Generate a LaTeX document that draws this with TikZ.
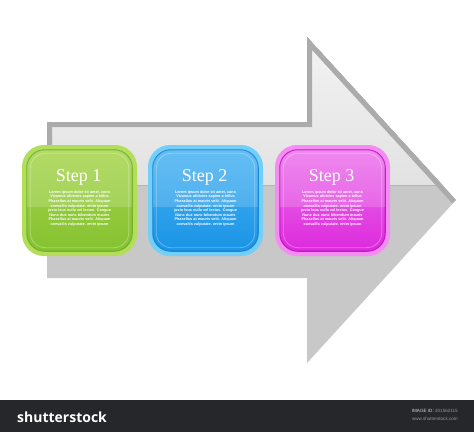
\documentclass[tikz,border=0pt]{standalone}
\usepackage{fontspec}
\setmainfont{Liberation Serif}
\newfontfamily\smallsans{Liberation Sans}
\newfontfamily\logofont{Open Sans}
\usetikzlibrary{calc}
\definecolor{arrowlow}{HTML}{C8C8C8}
\definecolor{arrowedge}{HTML}{ABABAB}
\definecolor{arrowtop}{HTML}{F3F3F3}
\definecolor{arrowmid}{HTML}{E2E2E2}
\definecolor{rim1}{HTML}{B2DE5A}
\definecolor{edge1}{HTML}{72B22A}
\definecolor{top1}{HTML}{A4D448}
\definecolor{bot1}{HTML}{86C232}
\definecolor{rim2}{HTML}{72CFF8}
\definecolor{edge2}{HTML}{1A84D6}
\definecolor{top2}{HTML}{48B2F2}
\definecolor{bot2}{HTML}{1A94E6}
\definecolor{rim3}{HTML}{F48CF4}
\definecolor{edge3}{HTML}{C418C4}
\definecolor{top3}{HTML}{EC72EC}
\definecolor{bot3}{HTML}{DC2ADC}
\definecolor{barcol}{HTML}{26272B}
\definecolor{idgray}{HTML}{9A9A9A}
\begin{document}
\begin{tikzpicture}[x=1pt,y=-1pt,
  rimbox/.style={rectangle, rounded corners=22pt, minimum width=115pt, minimum height=111pt, inner sep=0pt},
  steptitle/.style={text=white, font=\fontsize{18}{18}\selectfont, inner sep=0pt},
  lorem/.style={text=white, font=\smallsans\bfseries\fontsize{3.8}{4.6}\selectfont, align=center, inner sep=0pt},
  logo/.style={text=white, font=\logofont\bfseries\fontsize{14}{14}\selectfont, inner sep=0pt, anchor=base west},
  idtext/.style={text=idgray, font=\smallsans\fontsize{4.6}{5}\selectfont, inner sep=0pt, anchor=base east}]
\useasboundingbox (0,0) rectangle (474,432);
\fill[white] (0,0) rectangle (474,432);
% arrow body
\coordinate (sTL) at (47,122);
\coordinate (hT) at (307,122);
\coordinate (hTop) at (307,37);
\coordinate (tip) at (456,200);
\coordinate (hBot) at (307,363);
\coordinate (hB) at (307,278);
\coordinate (sBL) at (47,278);
\fill[arrowlow] (sTL) -- (hT) -- (hTop) -- (tip) -- (hBot) -- (hB) -- (sBL) -- cycle;
\fill[top color=arrowtop, bottom color=arrowmid] (47,185) -- (sTL) -- (hT) -- (hTop) -- (442.3,185) -- cycle;
\begin{scope}
  \clip (sTL) -- (hT) -- (hTop) -- (tip) -- (hBot) -- (hB) -- (sBL) -- cycle;
  \draw[arrowedge, line width=10pt, line join=miter] (47,185) -- (sTL) -- (hT) -- (hTop) -- (tip);
\end{scope}
% step boxes
\foreach \i/\x in {1/79.5, 2/205.5, 3/332.5}{
  \node[rimbox, fill=rim\i] (box\i) at (\x,200.5) {};
  \path[rounded corners=18pt, top color=top\i, bottom color=bot\i, draw=edge\i, line width=1.1pt]
    ($(box\i.north west)+(5,5)$) rectangle ($(box\i.south east)+(-5,-5)$);
  \begin{scope}
    \clip[rounded corners=18pt] ($(box\i.north west)+(5,5)$) rectangle ($(box\i.south east)+(-5,-5)$);
    \fill[white, opacity=0.16] (box\i.north west) rectangle ($(box\i.east)+(0,6)$);
  \end{scope}
  \draw[white, opacity=0.3, line width=0.8pt, rounded corners=15pt]
    ($(box\i.north west)+(8.5,8.5)$) rectangle ($(box\i.south east)+(-8.5,-8.5)$);
  \node[steptitle] (title\i) at ($(box\i.center)+(-1,-23)$) {Step \i};
  \node[lorem] (text\i) at ($(box\i.center)+(0,8)$) {Lorem ipsum dolor sit amet, cons\\Vivamus ultricies sapien a tellus\\Phasellus at mauris velit. Aliquam\\convallis vulputate. enim ipsum\\justo lous nulla vel lectus. Congue\\Nunc dux nunc bibendum mauris\\Phasellus at mauris velit. Aliquam\\convallis vulputate. enim ipsum};
}
% bottom bar
\fill[barcol] (0,400) rectangle (474,432);
\node[logo] (logo) at (17,422) {shutterstock};
\node[idtext, text=white!85!black] (imgid) at (458,412) {IMAGE ID: \textcolor{idgray}{201562115}};
\node[idtext] (www) at (458,420) {www.shutterstock.com};
\end{tikzpicture}
\end{document}
